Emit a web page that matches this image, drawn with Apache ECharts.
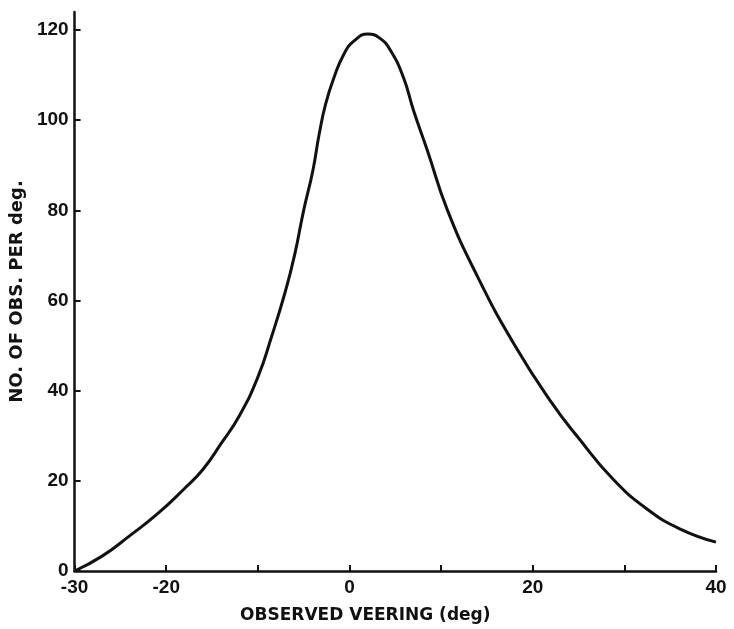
<!DOCTYPE html>
<html>
<head>
<meta charset="utf-8">
<script src="https://cdn.jsdelivr.net/npm/echarts@6/dist/echarts.min.js"></script>
<style>
  html, body { margin: 0; padding: 0; background: #fff; }
  #chart { width: 734px; height: 629px; }
</style>
</head>
<body>
<div id="chart"></div>
<script>
var veering = [-30, -27, -24, -21, -18, -16, -14, -12, -10, -8.5, -7, -6, -5, -4, -3.3, -2.6, -1.7, -0.6, 0.5, 2, 3.3, 4.5, 5.9, 7.0, 8.5, 10.7, 14, 18, 22, 25, 28.8, 32.5, 36.1, 40];
var obsPerDeg = [0, 3.3, 7.8, 12.6, 18.3, 22.5, 28.3, 34.5, 43, 52, 62, 70, 80, 88.8, 97, 103.6, 109.4, 114.7, 117.6, 119.1, 118.2, 115.4, 109.4, 102.1, 93.3, 80, 65.2, 50.2, 37.5, 29.5, 20.3, 13.7, 9.3, 6.4];
var xLabels = [-30, -20, 0, 20, 40];
var yTicks = [0, 20, 40, 60, 80, 100, 120];

var chart = echarts.init(document.getElementById("chart"));

var points = [];
for (var i = 0; i < veering.length; i++) {
  points.push([veering[i], obsPerDeg[i]]);
}

var labelFont = {
  color: "#111",
  fontFamily: "Liberation Sans",
  fontWeight: "bold",
  fontSize: 19
};

var option = {
  animation: false,
  backgroundColor: "#fff",
  grid: {
    left: 73,
    right: 18,
    top: 12,
    bottom: 57
  },
  xAxis: {
    type: "value",
    min: -30,
    max: 40,
    interval: 10,
    name: "OBSERVED VEERING (deg)",
    nameLocation: "middle",
    nameGap: 36,
    nameTextStyle: {
      color: "#111",
      fontFamily: "DejaVu Sans",
      fontWeight: "bold",
      fontSize: 17,
      padding: [0, 60, 0, 0]
    },
    axisLine: { onZero: false, lineStyle: { color: "#111", width: 2.5 } },
    axisTick: { inside: true, length: 6, lineStyle: { color: "#111", width: 2 } },
    axisLabel: Object.assign({ margin: 7, customValues: xLabels }, labelFont),
    splitLine: { show: false }
  },
  yAxis: {
    type: "value",
    min: 0,
    max: 124,
    name: "NO. OF OBS. PER deg.",
    nameLocation: "middle",
    nameRotate: 90,
    nameGap: 47,
    nameTextStyle: {
      color: "#111",
      fontFamily: "DejaVu Sans",
      fontWeight: "bold",
      fontSize: 18
    },
    axisLine: { show: true, onZero: false, lineStyle: { color: "#111", width: 2.5 } },
    axisTick: { show: true, inside: true, length: 6, customValues: yTicks, lineStyle: { color: "#111", width: 2 } },
    axisLabel: Object.assign({ margin: 6, customValues: yTicks }, labelFont),
    splitLine: { show: false }
  },
  series: [
    {
      type: "line",
      data: points,
      smooth: 0.5,
      showSymbol: false,
      lineStyle: { color: "#111", width: 3 }
    }
  ]
};
chart.setOption(option);
</script>
</body>
</html>
